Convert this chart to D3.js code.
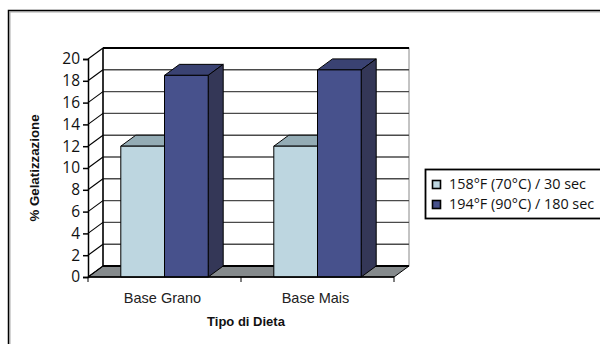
<!DOCTYPE html>
<html>
<head>
<meta charset="utf-8">
<script src="https://cdn.jsdelivr.net/npm/d3@7"></script>
<style>
html,body{margin:0;padding:0;background:#fff}
svg{display:block}
</style>
</head>
<body>
<svg id="chart" width="600" height="344"></svg>
<script>
const categories = ["Base Grano", "Base Mais"];
const seriesNames = ["158°F (70°C) / 30 sec", "194°F (90°C) / 180 sec"];
const lowTemp = [12, 12];
const highTemp = [18.5, 19];
const yTicks = [0, 2, 4, 6, 8, 10, 12, 14, 16, 18, 20];
const seriesValues = [lowTemp, highTemp];
const frontColors = ["#bdd6e0", "#47518c"];
const topColors = ["#94acb5", "#3a4272"];
const sideColors = ["#8fa5ae", "#343757"];

const sans = "'Liberation Sans', Arial, sans-serif";
const humanist = "'Open Sans', sans-serif";
const depth = {dx: 15, dy: -11};
const svg = d3.select("#chart");

// outer frame: only the top and left edges fall inside the page
svg.append("path").attr("d", "M9,344V11H600").attr("fill", "none").attr("stroke", "#aaa").attr("stroke-width", 1)
  .attr("transform", "translate(1,1)");
svg.append("path").attr("d", "M8.5,344V10.5H600").attr("fill", "none").attr("stroke", "#000").attr("stroke-width", 1.5);

const x = d3.scaleBand().domain(categories).range([88, 394]);
const y = d3.scaleLinear().domain([0, 20]).range([277, 59]);
const barW = 43.7;
const barX = (c, s) => x(c) + x.bandwidth() / 2 - barW + s * barW;
const pts = a => a.map(p => p.join(",")).join(" ");

// back wall and floor
svg.append("rect")
  .attr("x", x.range()[0] + depth.dx).attr("y", y(20) + depth.dy)
  .attr("width", x.range()[1] - x.range()[0]).attr("height", y(0) - y(20))
  .attr("fill", "#fff").attr("stroke", "#888").attr("stroke-width", 1);
svg.append("polygon")
  .attr("points", pts([[88, y(0)], [394, y(0)], [409, y(0) + depth.dy], [103, y(0) + depth.dy]]))
  .attr("fill", "#858a8c").attr("stroke", "#000").attr("stroke-width", 1);

// gridlines running across the back wall, with their sloped links to the axis
yTicks.forEach(t => {
  svg.append("line").attr("x1", 103).attr("x2", 409).attr("y1", y(t) + depth.dy).attr("y2", y(t) + depth.dy)
    .attr("stroke", t === 0 || t === 20 ? "#000" : "#4a4a4a").attr("stroke-width", t === 0 || t === 20 ? 1.8 : 1.4);
  svg.append("line").attr("x1", 88).attr("x2", 103).attr("y1", y(t)).attr("y2", y(t) + depth.dy)
    .attr("stroke", "#000").attr("stroke-width", 1.1);
});
svg.append("line").attr("x1", 103).attr("x2", 103).attr("y1", y(20) + depth.dy).attr("y2", y(0) + depth.dy)
  .attr("stroke", "#000").attr("stroke-width", 1.5);

// one 3D bar per category and series
categories.forEach((c, i) => {
  seriesValues.forEach((vals, s) => {
    const x0 = barX(c, s), x1 = x0 + barW, yt = y(vals[i]), yb = y(0);
    const g = svg.append("g").attr("stroke", "#000").attr("stroke-width", 1).attr("stroke-linejoin", "round");
    g.append("polygon").attr("points", pts([[x0, yt], [x1, yt], [x1 + depth.dx, yt + depth.dy], [x0 + depth.dx, yt + depth.dy]]))
      .attr("fill", topColors[s]);
    g.append("polygon").attr("points", pts([[x1, yt], [x1 + depth.dx, yt + depth.dy], [x1 + depth.dx, yb + depth.dy], [x1, yb]]))
      .attr("fill", sideColors[s]);
    g.append("rect").attr("x", x0).attr("y", yt).attr("width", barW).attr("height", yb - yt)
      .attr("fill", frontColors[s]);
  });
});

// value axis
const yAxis = svg.append("g").attr("transform", "translate(88,0)")
  .call(d3.axisLeft(y).tickValues(yTicks).tickSize(5).tickPadding(3));
yAxis.selectAll("path,line").attr("stroke", "#000").attr("stroke-width", 1.5);
yAxis.selectAll("text").attr("font-size", 15.5).style("font-family", humanist).attr("fill", "#111");

// category axis
const xAxis = svg.append("g").attr("transform", `translate(0,${y(0)})`);
xAxis.append("line").attr("x1", 88).attr("x2", 394).attr("y1", 0).attr("y2", 0).attr("stroke", "#000").attr("stroke-width", 1.5);
[88, 241, 394].forEach(px => xAxis.append("line").attr("x1", px).attr("x2", px).attr("y1", 0).attr("y2", 5).attr("stroke", "#000"));
categories.forEach(c => {
  xAxis.append("text").attr("x", x(c) + x.bandwidth() / 2 - 2).attr("y", 26)
    .attr("text-anchor", "middle").attr("font-size", 14.5).style("font-family", sans).attr("fill", "#222").text(c);
});

// axis titles
svg.append("text").attr("x", 246).attr("y", 326).attr("text-anchor", "middle").style("font-family", sans)
  .attr("font-size", 13).attr("font-weight", "bold").attr("fill", "#111").text("Tipo di Dieta");
svg.append("text").attr("transform", "translate(39,168) rotate(-90)").attr("text-anchor", "middle").style("font-family", sans)
  .attr("font-size", 13.3).attr("font-weight", "bold").attr("fill", "#111").text("% Gelatizzazione");

// legend
const legend = svg.append("g");
legend.append("rect").attr("x", 425.5).attr("y", 169.5).attr("width", 176).attr("height", 49)
  .attr("fill", "#fff").attr("stroke", "#000").attr("stroke-width", 1.8);
seriesNames.forEach((name, s) => {
  const ly = 184 + s * 20;
  legend.append("rect").attr("x", 432.5).attr("y", ly - 3.5).attr("width", 8).attr("height", 8)
    .attr("fill", frontColors[s]).attr("stroke", "#000").attr("stroke-width", 1.6);
  legend.append("text").attr("x", 449).attr("y", ly + 5).attr("font-size", 14.4)
    .style("font-family", humanist).attr("fill", "#111").text(name);
});
</script>
</body>
</html>
